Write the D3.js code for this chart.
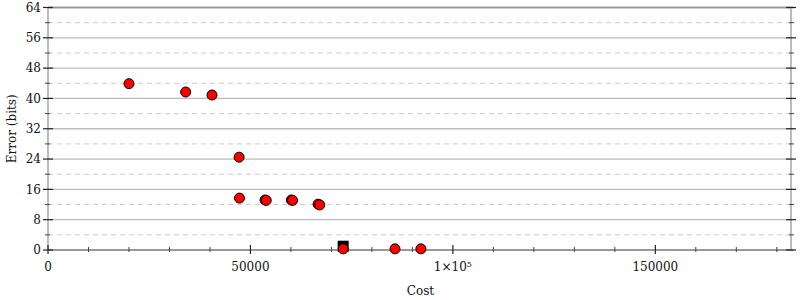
<!DOCTYPE html>
<html>
<head>
<meta charset="utf-8">
<script src="https://cdn.jsdelivr.net/npm/d3@7"></script>
</head>
<body style="margin:0;background:#fff">
<div id="chart"></div>
<script>
// Pareto points (cost vs error)
var costs  = [20000, 34000, 40500, 47200, 47300, 53600, 53900, 60100, 60400, 66700, 67100, 72900, 85700, 92100];
var errors = [43.9, 41.7, 40.9, 24.5, 13.7, 13.2, 13.1, 13.2, 13.1, 12.1, 11.9, 0.3, 0.3, 0.3];

// initial program
var initCost  = [72900];
var initError = [1.0];

var xTicks = [0, 50000, 100000, 150000];
var xMinor = d3.range(0, 184000, 10000);
var yTicks = [0, 8, 16, 24, 32, 40, 48, 56, 64];
var yMinor = [4, 12, 20, 28, 36, 44, 52, 60];

var width = 800, height = 300;
var margin = {left: 48, right: 7, top: 7.5, bottom: 50};
// serif faces are not available here, DejaVu Sans has the closest widths
var font = "'DejaVu Serif', 'DejaVu Sans', sans-serif";

var svg = d3.select("#chart").append("svg")
	.attr("width", width)
	.attr("height", height)
	.style("font-family", font)
	.style("font-size", "12px");

var x = d3.scaleLinear()
	.domain([0, 184000])
	.range([margin.left, width - margin.right]);

var y = d3.scaleLinear()
	.domain([0, 64])
	.range([height - margin.bottom, margin.top]);

// grid lines
svg.selectAll(".gmaj")
	.data(yTicks.slice(1, -1))
	.enter().append("line")
	.attr("x1", x.range()[0]).attr("x2", x.range()[1])
	.attr("y1", d => y(d)).attr("y2", d => y(d))
	.attr("stroke", "#bbb").attr("stroke-width", 1.3);

svg.selectAll(".gmin")
	.data(yMinor)
	.enter().append("line")
	.attr("x1", x.range()[0]).attr("x2", x.range()[1])
	.attr("y1", d => y(d)).attr("y2", d => y(d))
	.attr("stroke", "#ccc").attr("stroke-width", 1)
	.attr("stroke-dasharray", "5,4");

// frame
svg.append("line") // top
	.attr("x1", x.range()[0]).attr("x2", x.range()[1])
	.attr("y1", y(64)).attr("y2", y(64))
	.attr("stroke", "#999").attr("stroke-width", 2);
svg.append("line") // left
	.attr("x1", x(0)).attr("x2", x(0))
	.attr("y1", y(0)).attr("y2", y(64))
	.attr("stroke", "#bbb").attr("stroke-width", 2);
svg.append("line") // right
	.attr("x1", x.range()[1] - 2).attr("x2", x.range()[1] - 2)
	.attr("y1", y(0)).attr("y2", y(64))
	.attr("stroke", "#bbb").attr("stroke-width", 2);
svg.append("line") // bottom
	.attr("x1", x.range()[0]).attr("x2", x.range()[1])
	.attr("y1", y(0)).attr("y2", y(0))
	.attr("stroke", "#999").attr("stroke-width", 2);

// x ticks
svg.selectAll(".xmin")
	.data(xMinor.filter(d => xTicks.indexOf(d) < 0))
	.enter().append("line")
	.attr("x1", d => x(d)).attr("x2", d => x(d))
	.attr("y1", y(0) - 3).attr("y2", y(0) + 2)
	.attr("stroke", "#444").attr("stroke-width", 1);
svg.selectAll(".xmaj")
	.data(xTicks)
	.enter().append("line")
	.attr("x1", d => x(d)).attr("x2", d => x(d))
	.attr("y1", y(0) - 5).attr("y2", y(0) + 4)
	.attr("stroke", "#222").attr("stroke-width", 1.2);

var xl = svg.selectAll(".xlab")
	.data(xTicks)
	.enter().append("text")
	.attr("x", d => x(d))
	.attr("y", y(0) + 21)
	.attr("fill", "#111")
	.attr("text-anchor", "middle");
xl.each(function(d) {
	var t = d3.select(this);
	if (d === 100000) {
		t.append("tspan").text("1×10");
		t.append("tspan").style("font-size", "8px").attr("dy", -4).text("5");
	} else {
		t.text(d);
	}
});

// y ticks, both sides
[x.range()[0], x.range()[1] - 2].forEach(function(px, i) {
	var dir = i === 0 ? -1 : 1;
	svg.selectAll(null)
		.data(yTicks)
		.enter().append("line")
		.attr("x1", px - 5).attr("x2", px + 5)
		.attr("y1", d => y(d)).attr("y2", d => y(d))
		.attr("stroke", "#222").attr("stroke-width", 1.2);
	svg.selectAll(null)
		.data(yMinor)
		.enter().append("line")
		.attr("x1", px - 3 + (dir < 0 ? 0 : 1)).attr("x2", px + 2 + (dir < 0 ? 0 : 1))
		.attr("y1", d => y(d)).attr("y2", d => y(d))
		.attr("stroke", "#444").attr("stroke-width", 1);
});

svg.selectAll(".ylab")
	.data(yTicks)
	.enter().append("text")
	.attr("x", x(0) - 7)
	.attr("y", d => y(d))
	.attr("dy", "0.36em")
	.attr("fill", "#111")
	.attr("text-anchor", "end")
	.text(d => d);

// axis titles
svg.append("text")
	.attr("x", (x.range()[0] + x.range()[1]) / 2)
	.attr("y", 295)
	.attr("fill", "#111")
	.attr("text-anchor", "middle")
	.text("Cost");
svg.append("text")
	.attr("transform", "translate(16," + ((y(0) + y(64)) / 2) + ") rotate(-90)")
	.attr("fill", "#111")
	.attr("text-anchor", "middle")
	.text("Error (bits)");

// initial program marker
svg.selectAll(".init")
	.data(initCost)
	.enter().append("rect")
	.attr("x", (d) => x(d) - 5.5)
	.attr("y", (d, i) => y(initError[i]) - 5.5)
	.attr("width", 11).attr("height", 11)
	.attr("fill", "#000");

// points
svg.selectAll(".pt")
	.data(costs)
	.enter().append("circle")
	.attr("cx", d => x(d))
	.attr("cy", (d, i) => y(errors[i]))
	.attr("r", 5)
	.attr("fill", "#f00")
	.attr("stroke", "#000")
	.attr("stroke-width", 1);
</script>
</body>
</html>
